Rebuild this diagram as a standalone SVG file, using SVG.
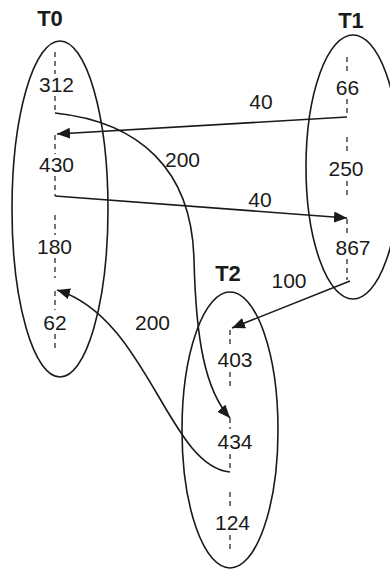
<svg xmlns="http://www.w3.org/2000/svg" width="390" height="571" viewBox="0 0 390 571">
<style>
.ell{fill:none;stroke:#1a1a1a;stroke-width:1.6}
.dash{stroke:#1a1a1a;stroke-width:1.2;stroke-dasharray:5,4;fill:none}
.num{font-family:"Liberation Sans",Arial,sans-serif;font-size:21px;fill:#1a1a1a;text-anchor:middle}
.ttl{font-family:"Liberation Sans",Arial,sans-serif;font-size:22px;font-weight:bold;fill:#1a1a1a;text-anchor:middle}
.conn{fill:none;stroke:#1a1a1a;stroke-width:1.6}
</style>
<defs>
<marker id="arr" viewBox="0 0 13 11" refX="13" refY="5.5" markerWidth="13" markerHeight="11" markerUnits="userSpaceOnUse" orient="auto">
<path d="M0,0 L13,5.5 L0,11 Z" fill="#1a1a1a"/>
</marker>
</defs>
<rect width="390" height="571" fill="#fff"/>

<g id="T0">
<ellipse class="ell" cx="60" cy="209" rx="48" ry="168"/>
<text class="ttl" x="50" y="26">T0</text>
<line class="dash" x1="55" y1="52" x2="55" y2="74"/>
<text class="num" x="56.5" y="92">312</text>
<line class="dash" x1="55" y1="96" x2="55" y2="113"/>
<line class="dash" x1="55" y1="135" x2="55" y2="154"/>
<text class="num" x="56.5" y="172">430</text>
<line class="dash" x1="55" y1="176" x2="55" y2="196"/>
<line class="dash" x1="55" y1="215" x2="55" y2="235"/>
<text class="num" x="54.5" y="254">180</text>
<line class="dash" x1="55" y1="258" x2="55" y2="278"/>
<line class="dash" x1="55" y1="291" x2="55" y2="310"/>
<text class="num" x="55" y="330">62</text>
<line class="dash" x1="55" y1="334" x2="55" y2="352"/>
</g>

<g id="T1">
<ellipse class="ell" cx="353" cy="167" rx="47" ry="132"/>
<text class="ttl" x="351" y="28">T1</text>
<line class="dash" x1="347" y1="57" x2="347" y2="75"/>
<text class="num" x="347.5" y="95">66</text>
<line class="dash" x1="347" y1="99" x2="347" y2="117"/>
<line class="dash" x1="347" y1="137" x2="347" y2="155"/>
<text class="num" x="346" y="176">250</text>
<line class="dash" x1="347" y1="181" x2="347" y2="198"/>
<line class="dash" x1="347" y1="219" x2="347" y2="236"/>
<text class="num" x="353" y="255">867</text>
<line class="dash" x1="347" y1="259" x2="347" y2="280"/>
</g>

<g id="T2">
<ellipse class="ell" cx="230" cy="430" rx="48" ry="138"/>
<text class="ttl" x="228" y="281">T2</text>
<line class="dash" x1="230" y1="330" x2="230" y2="347"/>
<text class="num" x="235" y="367">403</text>
<line class="dash" x1="230" y1="372" x2="230" y2="388"/>
<line class="dash" x1="230" y1="418" x2="230" y2="429"/>
<text class="num" x="235" y="449">434</text>
<line class="dash" x1="230" y1="454" x2="230" y2="472"/>
<line class="dash" x1="230" y1="492" x2="230" y2="510"/>
<text class="num" x="232.5" y="530">124</text>
<line class="dash" x1="230" y1="535" x2="230" y2="552"/>
</g>

<g id="connectors">
<path class="conn" d="M347,117 L57,134" marker-end="url(#arr)"/>
<text class="num" x="261" y="109">40</text>
<path class="conn" d="M55,196 L347,218" marker-end="url(#arr)"/>
<text class="num" x="260" y="207">40</text>
<path class="conn" d="M55,113 C140,122 192,170 194,260 C196,340 205,390 230,418" marker-end="url(#arr)"/>
<text class="num" x="182.5" y="167">200</text>
<path class="conn" d="M350,281 L232,328" marker-end="url(#arr)"/>
<text class="num" x="289" y="288">100</text>
<path class="conn" d="M230,472 C168,466 148,318 57,290" marker-end="url(#arr)"/>
<text class="num" x="152.5" y="330">200</text>
</g>
</svg>
